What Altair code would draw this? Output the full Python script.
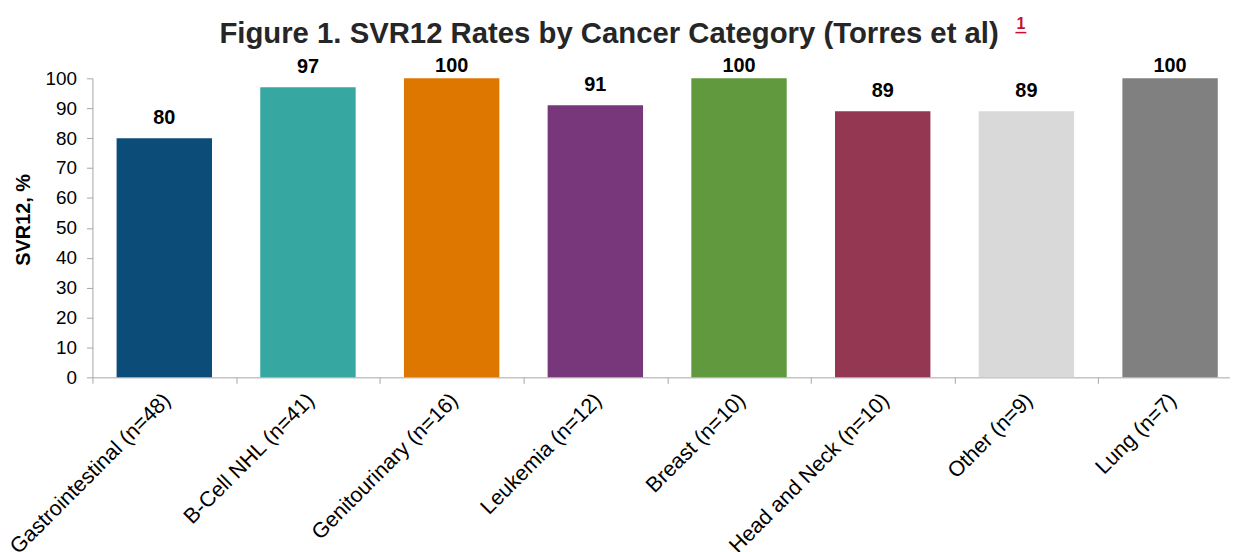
import altair as alt
import pandas as pd

categories = ["Gastrointestinal (n=48)", "B-Cell NHL (n=41)", "Genitourinary (n=16)",
              "Leukemia (n=12)", "Breast (n=10)", "Head and Neck (n=10)",
              "Other (n=9)", "Lung (n=7)"]
values = [80, 97, 100, 91, 100, 89, 89, 100]
colors = ["#0b4d78", "#36a7a1", "#de7700", "#78367b", "#619a3e",
          "#933753", "#d9d9d9", "#808080"]
y_ticks = list(range(0, 101, 10))
title_text = "Figure 1. SVR12 Rates by Cancer Category (Torres et al)"
footnote = "1"

df = pd.DataFrame({"cat": categories, "val": values})

FONT = "Liberation Sans"
W, H = 1145, 301
RANGE = 1157
STEP = RANGE / len(categories)

x = alt.X("cat:N", sort=categories, title=None,
          scale=alt.Scale(range=[0, RANGE], paddingInner=0.336, paddingOuter=0.168),
          axis=alt.Axis(labelAngle=-45, labelFontSize=21.5, labelColor="#000000",
                        labelFont=FONT, domainColor="#a6a6a6", tickColor="#a6a6a6",
                        tickOffset=-STEP / 2, labelOffset=STEP / 2 - 5,
                        tickSize=6, labelPadding=6, labelLimit=400, labelOverlap=False))
y_axis = alt.Axis(values=y_ticks, grid=False, labelFontSize=19, labelColor="#000000",
                  labelFont=FONT, domainColor="#a6a6a6", tickColor="#a6a6a6",
                  labelOverlap=False,
                  tickSize=6, labelPadding=10, titleFontSize=20, titleFont=FONT,
                  titleFontWeight="bold", titleColor="#000000", titlePadding=12,
                  titleY=142)
y_scale = alt.Scale(domain=[0, 100], nice=False)

bars = alt.Chart(df).mark_bar().encode(
    x=x, y=alt.Y("val:Q", title="SVR12, %", scale=y_scale, axis=y_axis),
    color=alt.Color("cat:N", scale=alt.Scale(domain=categories, range=colors), legend=None),
)
# data labels stay inside the plot area (clamped near the top, as in the original)
labels = alt.Chart(df).transform_calculate(
    ly="min(datum.val, 97.4)"
).mark_text(font=FONT, fontSize=20, fontWeight="bold", dy=-14,
            baseline="alphabetic", color="#000000").encode(
    x=x, y=alt.Y("ly:Q", title="SVR12, %", scale=y_scale, axis=y_axis), text="val:Q")

title = alt.Chart(pd.DataFrame({"t": [title_text]})).mark_text(
    font=FONT, fontSize=29.5, fontWeight="bold", color="#262626", baseline="alphabetic",
    align="center").encode(x=alt.value(520), y=alt.value(-36), text="t:N")
sup = alt.Chart(pd.DataFrame({"t": [footnote]})).mark_text(
    font=FONT, fontSize=16, fontWeight="bold", color="#c8102e", baseline="alphabetic",
    align="left").encode(x=alt.value(930), y=alt.value(-50), text="t:N")
underline = alt.Chart(pd.DataFrame({"t": [footnote]})).mark_rule(color="#c8102e", strokeWidth=1.5).encode(
    x=alt.value(929), x2=alt.value(940), y=alt.value(-46))

chart = alt.layer(bars, labels, title, sup, underline).properties(
    width=W, height=H,
    autosize=alt.AutoSizeParams(type="none"),
    padding={"left": 85, "top": 69, "right": 0, "bottom": 174},
).configure_view(stroke=None)

chart.save("out.html", embed_options={"renderer": "svg", "actions": False})
